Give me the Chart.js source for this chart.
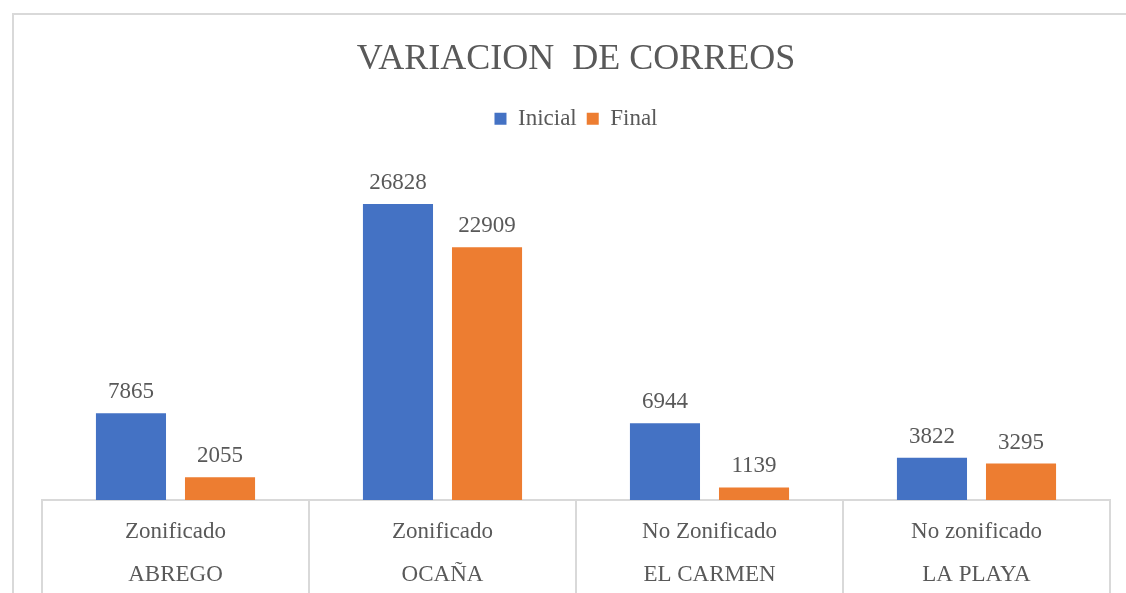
<!DOCTYPE html>
<html>
<head>
<meta charset="utf-8">
<script src="https://cdn.jsdelivr.net/npm/chart.js@4.4.1/dist/chart.umd.min.js"></script>
<style>
  html, body { margin: 0; padding: 0; background: #fff; }
  #wrap { position: relative; width: 1126px; height: 593px; overflow: hidden; }
  #frame {
    position: absolute; left: 12px; top: 13px; width: 1200px; height: 700px;
    border-top: 2px solid #d9d9d9; border-left: 2px solid #d9d9d9;
  }
  canvas { position: absolute; left: 0; top: 0; }
</style>
</head>
<body>
<div id="wrap">
  <div id="frame"></div>
  <canvas id="chart" width="1126" height="593"></canvas>
</div>
<script>
const zonas = ["Zonificado", "Zonificado", "No Zonificado", "No zonificado"];
const municipios = ["ABREGO", "OCAÑA", "EL CARMEN", "LA PLAYA"];
const inicial = [7865, 26828, 6944, 3822];
const final = [2055, 22909, 1139, 3295];

const FONT = '"Liberation Serif", "Times New Roman", serif';
const TEXT = "#595959";
const LINE = "#d9d9d9";

// value labels above each bar
const barValues = {
  id: "barValues",
  afterDatasetsDraw(chart) {
    const ctx = chart.ctx;
    ctx.save();
    ctx.font = "23px " + FONT;
    ctx.fillStyle = TEXT;
    ctx.textAlign = "center";
    ctx.textBaseline = "alphabetic";
    chart.data.datasets.forEach((ds, i) => {
      chart.getDatasetMeta(i).data.forEach((bar, j) => {
        ctx.fillText(String(ds.data[j]), bar.x, bar.y - 15);
      });
    });
    ctx.restore();
  }
};

// category separators running from the axis line down through the label rows
const groupLines = {
  id: "groupLines",
  afterDraw(chart) {
    const x = chart.scales.x;
    const n = chart.data.labels.length;
    const edges = [x.left];
    for (let i = 1; i < n; i++) {
      edges.push((x.getPixelForTick(i - 1) + x.getPixelForTick(i)) / 2);
    }
    edges.push(x.right);
    const ctx = chart.ctx;
    ctx.save();
    ctx.strokeStyle = LINE;
    ctx.lineWidth = 2;
    ctx.beginPath();
    edges.forEach(px => {
      ctx.moveTo(px, chart.chartArea.bottom);
      ctx.lineTo(px, chart.height);
    });
    ctx.stroke();
    ctx.restore();
  }
};

new Chart(document.getElementById("chart"), {
  type: "bar",
  data: {
    labels: zonas.map((z, i) => [z, municipios[i]]),
    datasets: [
      { label: "Inicial", data: inicial, backgroundColor: "#4472c4" },
      { label: "Final", data: final, backgroundColor: "#ed7d31" }
    ]
  },
  options: {
    responsive: false,
    animation: false,
    layout: { padding: { left: 42, right: 16, top: 0, bottom: -5 } },
    datasets: {
      bar: { categoryPercentage: 0.667, barPercentage: 0.787 }
    },
    plugins: {
      title: {
        display: true,
        text: "VARIACION  DE CORREOS",
        color: TEXT,
        font: { family: FONT, size: 36, weight: "normal", lineHeight: 1.2 },
        padding: { top: 38, bottom: 16 }
      },
      legend: {
        position: "top",
        labels: {
          color: TEXT,
          font: { family: FONT, size: 23 },
          boxWidth: 12,
          boxHeight: 12,
          padding: 10
        }
      },
      tooltip: { enabled: false }
    },
    scales: {
      x: {
        offset: true,
        grid: { display: false },
        border: { color: LINE, width: 2 },
        ticks: {
          color: TEXT,
          font: { family: FONT, size: 23, lineHeight: 1.87 },
          padding: 2,
          maxRotation: 0
        }
      },
      y: {
        display: false,
        min: 0,
        max: 32600
      }
    }
  },
  plugins: [barValues, groupLines]
});
</script>
</body>
</html>
